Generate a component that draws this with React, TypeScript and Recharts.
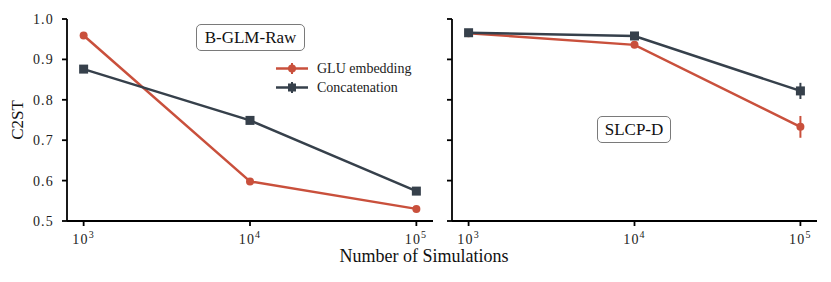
import React from "react";
import { LineChart, Line, XAxis, YAxis, ErrorBar } from "recharts";

// simulation budgets (x) and C2ST values
const simulations = [1000, 10000, 100000];
const yTicks = [0.5, 0.6, 0.7, 0.8, 0.9, 1.0];

const glmGlu = [0.959, 0.598, 0.53];
const glmGluErr = [0.004, 0.004, 0.004];
const glmConcat = [0.876, 0.749, 0.574];
const glmConcatErr = [0.004, 0.007, 0.004];

const slcpGlu = [0.965, 0.936, 0.733];
const slcpGluErr = [0.003, 0.006, 0.027];
const slcpConcat = [0.966, 0.958, 0.822];
const slcpConcatErr = [0.003, 0.004, 0.02];

const seriesNames = ["GLU embedding", "Concatenation"];

const RED = "#c9503c";
const DARK = "#36404b";
const FONT = "'Liberation Serif', 'Times New Roman', serif";

const X_MIN = Math.pow(10, 2.9);
const X_MAX = Math.pow(10, 5.1);

const build = (glu: number[], gluErr: number[], cat: number[], catErr: number[]) =>
  simulations.map((n, i) => ({
    n,
    glu: glu[i],
    gluErr: gluErr[i],
    concat: cat[i],
    concatErr: catErr[i],
  }));

const glmData = build(glmGlu, glmGluErr, glmConcat, glmConcatErr);
const slcpData = build(slcpGlu, slcpGluErr, slcpConcat, slcpConcatErr);

const PowerTick = ({ x, y, payload }: any) => {
  const exp = Math.round(Math.log10(payload.value));
  return (
    <text x={x} y={y + 16} textAnchor="middle" fontFamily={FONT} fontSize={14} fill="#222" letterSpacing={1.2}>
      10
      <tspan dy={-6} fontSize={10}>{exp}</tspan>
    </text>
  );
};

const SquareDot = (props: any) => {
  const { cx, cy, index } = props;
  if (cx == null || cy == null) return <g key={index} />;
  return <rect key={index} x={cx - 4.5} y={cy - 4.5} width={9} height={9} fill={DARK} />;
};

const LegendBox = () => (
  <div
    style={{
      position: "absolute",
      left: 276,
      top: 59,
      fontFamily: FONT,
      fontSize: 14,
      color: "#222",
      lineHeight: "19px",
    }}
  >
    {seriesNames.map((name, i) => {
      const color = i === 0 ? RED : DARK;
      return (
        <div key={name} style={{ display: "flex", alignItems: "center" }}>
          <svg width={41} height={19}>
            <line x1={0} y1={9.5} x2={32} y2={9.5} stroke={color} strokeWidth={2.5} />
            <line x1={16} y1={4} x2={16} y2={15} stroke={color} strokeWidth={2} />
            {i === 1 ? (
              <rect x={12} y={5.5} width={8} height={8} fill={color} />
            ) : (
              <circle cx={16} cy={9.5} r={4} fill={color} />
            )}
          </svg>
          <span>{name}</span>
        </div>
      );
    })}
  </div>
);

const axisStroke = { stroke: "#000", strokeWidth: 1.8 };

const Panel = ({ id, data, showY, width, marginLeft, marginRight }: any) => (
  <LineChart
    id={id}
    width={width}
    height={282}
    data={data}
    margin={{ top: 19, right: marginRight, bottom: 0, left: marginLeft }}
  >
    <XAxis
      dataKey="n"
      type="number"
      scale="log"
      domain={[X_MIN, X_MAX]}
      allowDataOverflow
      ticks={simulations}
      tick={<PowerTick />}
      height={61}
      stroke="#000"
      axisLine={axisStroke}
      tickLine={axisStroke}
      tickSize={5}
    />
    <YAxis
      type="number"
      domain={[0.5, 1.0]}
      ticks={yTicks}
      width={12}
      stroke="#000"
      tick={{ fontFamily: FONT, fontSize: 14, fill: "#222", letterSpacing: 1.2 }}
      tickFormatter={(v: number) => (showY ? v.toFixed(1) : "")}
      tickMargin={8}
      tickSize={5}
      axisLine={axisStroke}
      tickLine={axisStroke}
    />
    <Line
      dataKey="glu"
      name={seriesNames[0]}
      stroke={RED}
      strokeWidth={2.5}
      dot={{ r: 4, fill: RED, stroke: "none" }}
      isAnimationActive={false}
    >
      <ErrorBar dataKey="gluErr" direction="y" width={0} stroke={RED} strokeWidth={2} />
    </Line>
    <Line
      dataKey="concat"
      name={seriesNames[1]}
      stroke={DARK}
      strokeWidth={2.5}
      dot={SquareDot}
      isAnimationActive={false}
    >
      <ErrorBar dataKey="concatErr" direction="y" width={0} stroke={DARK} strokeWidth={2} />
    </Line>
  </LineChart>
);

const boxStyle: React.CSSProperties = {
  position: "absolute",
  fontFamily: FONT,
  fontSize: 17,
  color: "#111",
  border: "1.6px solid #7a7a7a",
  borderRadius: 5,
  background: "#fff",
  boxSizing: "border-box",
  display: "flex",
  alignItems: "center",
  justifyContent: "center",
};

export default function App() {
  return (
    <div style={{ position: "absolute", left: 0, top: 0, width: 831, height: 282, background: "#fff" }}>
      <div style={{ position: "absolute", left: 0, top: 0 }}>
        <Panel id="glm" data={glmData} showY width={440} marginLeft={55} marginRight={7} />
      </div>
      <div style={{ position: "absolute", left: 440, top: 0 }}>
        <Panel id="slcp" data={slcpData} showY={false} width={391} marginLeft={0} marginRight={14} />
      </div>
      <LegendBox />
      <div style={{ ...boxStyle, left: 196, top: 24, width: 109, height: 27 }}>B-GLM-Raw</div>
      <div style={{ ...boxStyle, left: 597, top: 116, width: 74, height: 27 }}>SLCP-D</div>
      <div
        style={{
          position: "absolute",
          left: 18,
          top: 120,
          transform: "translate(-50%, -50%) rotate(-90deg)",
          fontFamily: FONT,
          fontSize: 17,
          color: "#111",
          whiteSpace: "nowrap",
        }}
      >
        C2ST
      </div>
      <div
        style={{
          position: "absolute",
          left: 0,
          width: 848,
          top: 246,
          textAlign: "center",
          fontFamily: FONT,
          fontSize: 18,
          color: "#111",
        }}
      >
        Number of Simulations
      </div>
    </div>
  );
}
